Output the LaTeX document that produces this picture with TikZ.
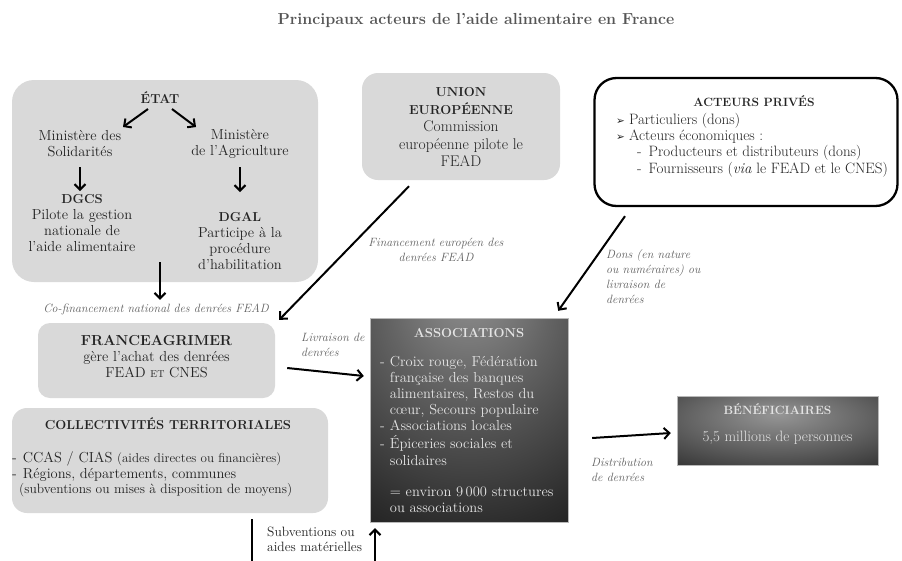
\documentclass[tikz,border=0pt]{standalone}
\usepackage{fontspec}
\newfontfamily\dejavu{DejaVu Sans}
\usetikzlibrary{arrows.meta}
\definecolor{boxgray}{RGB}{217,217,217}
\definecolor{labgray}{RGB}{95,95,95}
\definecolor{titlegray}{RGB}{85,85,85}
\definecolor{txtgray}{RGB}{35,35,35}
\definecolor{lighttxt}{RGB}{228,228,228}
\definecolor{shA}{RGB}{150,150,150}
\definecolor{shB}{RGB}{100,100,100}
\definecolor{shC}{RGB}{45,45,45}
\definecolor{shD}{RGB}{8,8,8}
\pgfdeclareradialshading{assocshade}{\pgfpoint{0bp}{35bp}}{color(0bp)=(shA); color(20bp)=(shB); color(45bp)=(shC); color(65bp)=(shD); color(100bp)=(black)}
\pgfdeclareradialshading{benshade}{\pgfpoint{0bp}{12bp}}{color(0bp)=(shA); color(22bp)=(shB); color(45bp)=(shC); color(62bp)=(shD); color(100bp)=(black)}
\tikzset{
  graybox/.style={shape=rectangle, fill=boxgray, draw=none, inner sep=0pt, rounded corners=18pt},
  darkbox/.style={shape=rectangle, draw=gray!55, line width=0.4pt, inner sep=0pt},
  arr/.style={line width=2pt, -{Straight Barb[length=5.5pt,width=11pt]}},
  bd/.style={inner sep=0pt, align=center, text=txtgray, font=\fontsize{14.5}{16}\selectfont},
  lbl/.style={inner sep=0pt, text=labgray, font=\fontsize{12}{15}\selectfont\itshape},
  ttl/.style={inner sep=0pt, text=titlegray, font=\fontsize{16}{18}\selectfont\bfseries},
  hb/.style={font=\fontsize{13}{16}\selectfont\bfseries},
}
\newcommand{\puce}{{\dejavu\fontsize{10.5}{10}\selectfont\char"27A2}\hspace{4pt}}
\begin{document}
\begin{tikzpicture}[x=1pt,y=-1pt]
\useasboundingbox (0,0) rectangle (902,560);
\clip (0,0) rectangle (902,560);
\fill[white] (0,0) rectangle (902,560);
% title
\node[ttl] (title) at (476,20) {Principaux acteurs de l'aide alimentaire en France};
% boxes
\node[graybox, minimum width=306pt, minimum height=202pt, rounded corners=22pt] (etatbox) at (165,181) {};
\node[graybox, minimum width=198pt, minimum height=107pt, rounded corners=16pt] (uebox) at (461,126.5) {};
\node[shape=rectangle, draw=black, fill=white, line width=2.3pt, inner sep=0pt, rounded corners=22pt, minimum width=303pt, minimum height=128pt] (apbox) at (746,142) {};
\node[graybox, minimum width=237pt, minimum height=75pt, rounded corners=12pt] (fambox) at (156.5,360.5) {};
\node[graybox, minimum width=316pt, minimum height=105pt, rounded corners=15pt] (collbox) at (170,460.5) {};
\node[darkbox, shading=assocshade, minimum width=198pt, minimum height=204pt] (assocbox) at (469,420) {};
\node[darkbox, shading=benshade, minimum width=201pt, minimum height=69pt] (benbox) at (777.5,430.5) {};
% ETAT content
\node[bd, hb] (etat) at (160,98) {ÉTAT};
\node[bd] (msol) at (80,144) {Ministère des\\Solidarités};
\node[bd] (magr) at (240,144) {Ministère\\de l'Agriculture};
\node[bd] (dgcs) at (82,223) {{\fontsize{13}{16}\selectfont\textbf{DGCS}}\\Pilote la gestion\\nationale de\\l'aide alimentaire};
\node[bd] (dgal) at (240,241) {{\fontsize{13}{16}\selectfont\textbf{DGAL}}\\Participe à la\\procédure\\d'habilitation};
% UE
\node[bd, font=\fontsize{15.5}{17.5}\selectfont] (uetxt) at (461,127) {{\fontsize{13}{17.5}\selectfont\textbf{UNION}}\\{\fontsize{13}{17.5}\selectfont\textbf{EUROPÉENNE}}\\Commission\\européenne pilote le\\FEAD};
% Acteurs prives
\node[bd, hb, font=\fontsize{12}{16}\selectfont\bfseries] (aptitle) at (754,101) {ACTEURS PRIVÉS};
\node[bd, align=left, anchor=west, font=\fontsize{15}{16.3}\selectfont] (aptxt) at (616,145) {\puce Particuliers (dons)\\\puce Acteurs économiques :\\\hspace*{21pt}-\hspace{7pt}Producteurs et distributeurs (dons)\\\hspace*{21pt}-\hspace{7pt}Fournisseurs (\textit{via} le FEAD et le CNES)};
% FranceAgriMer
\node[bd] (famtxt) at (156.5,357) {{\fontsize{14.5}{16}\selectfont\textbf{FRANCEAGRIMER}}\\gère l'achat des denrées\\FEAD {\fontsize{10}{10}\selectfont ET} CNES};
% Collectivites
\node[bd, hb] (colltitle) at (168,424) {COLLECTIVITÉS TERRITORIALES};
\node[bd, align=left, anchor=west, font=\fontsize{14.5}{15.5}\selectfont] (colltxt) at (12,474.5) {-\hspace{6pt}CCAS / CIAS {\fontsize{13}{15.5}\selectfont(aides directes ou financières)}\\-\hspace{6pt}Régions, départements, communes\\\hspace*{7pt}{\fontsize{13.5}{15.5}\selectfont(subventions ou mises à disposition de moyens)}};
% Associations
\node[bd, hb, text=lighttxt] (assoctitle) at (469,333) {ASSOCIATIONS};
\node[bd, text=lighttxt, anchor=west, align=left, font=\fontsize{14.5}{16.2}\selectfont] (assoctxt) at (380,436) {\begin{tabular}{@{}l@{\hspace{5pt}}l@{}}-&Croix rouge, Fédération\\&française des banques\\&alimentaires, Restos du\\&cœur, Secours populaire\\-&Associations locales\\-&Épiceries sociales et\\&solidaires\\[15pt]&= environ 9\,000 structures\\&ou associations\end{tabular}};
% Beneficiaires
\node[bd, text=lighttxt, font=\fontsize{15}{16}\selectfont] (bentxt) at (777.5,424) {{\fontsize{12}{16}\selectfont\textbf{BÉNÉFICIAIRES}}\\[11pt]5,5 millions de personnes};
% labels
\node[lbl] (lcofin) at (156,309) {Co-financement national des denrées FEAD};
\node[lbl, align=center] (lfin) at (436,250) {Financement européen des\\denrées FEAD};
\node[lbl, align=left, anchor=west] (ldons) at (606,277) {Dons (en nature\\ou numéraires) ou\\livraison de\\denrées};
\node[lbl, align=left, anchor=west] (lliv) at (301,345) {Livraison de\\denrées};
\node[lbl, align=left, anchor=west] (ldist) at (591,470) {Distribution\\de denrées};
\node[bd, align=left, anchor=west, font=\fontsize{13.5}{15.5}\selectfont] (lsub) at (267,539.5) {Subventions ou\\aides matérielles};
% connectors
\draw[arr] ([xshift=-12pt,yshift=-11pt]etat.center) -- ([xshift=43pt,yshift=17pt]msol.center);
\draw[arr] ([xshift=12pt,yshift=-11pt]etat.center) -- ([xshift=-44pt,yshift=17pt]magr.center);
\draw[arr] ([yshift=-23pt]msol.center) -- ([xshift=-2pt,yshift=32pt]dgcs.center);
\draw[arr] ([yshift=-23pt]magr.center) -- ([yshift=49pt]dgal.center);
\draw[arr] ([xshift=-5pt,yshift=-81pt]etatbox.center) -- ([xshift=3.5pt,yshift=23pt]fambox.north);
\draw[arr] ([xshift=-52pt,yshift=-6pt]uebox.south) -- ([xshift=4pt,yshift=3pt]fambox.north east);
\draw[arr] ([xshift=-121pt,yshift=-9pt]apbox.south) -- ([xshift=-10pt,yshift=7pt]assocbox.north east);
\draw[arr] ([xshift=12pt,yshift=-7.5pt]fambox.east) -- ([xshift=-6pt,yshift=44pt]assocbox.west);
\draw[arr] ([xshift=24pt,yshift=-18pt]assocbox.east) -- ([xshift=-6pt,yshift=-2.5pt]benbox.west);
\draw[arr] ([xshift=82pt,yshift=-6pt]collbox.south) -- ++(0,80) -| ([xshift=-94pt,yshift=-6pt]assocbox.south);
\end{tikzpicture}
\end{document}
